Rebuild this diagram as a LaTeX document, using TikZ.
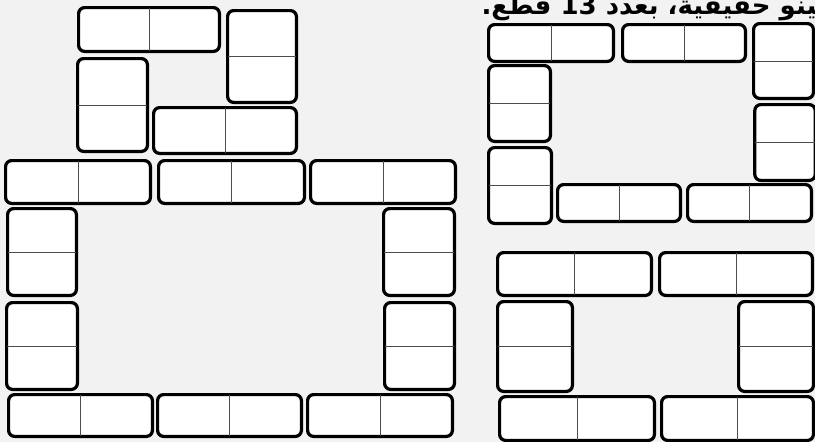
\documentclass[tikz,border=0pt]{standalone}
\usepackage{fontspec}
\newfontfamily\arabicfont[Script=Arabic]{DejaVu Sans}
\TeXXeTstate=1

\begin{document}
\begin{tikzpicture}[x=1pt, y=-1pt, dom/.style={draw, line width=3.2pt, rounded corners=6pt, fill=white, inner sep=0pt}, split/.style={draw=black!70, line width=1pt, shorten <=1.6pt, shorten >=1.6pt}]
    \fill[black!5] (0,0) rectangle (815,442);
    \useasboundingbox (0,0) rectangle (815,442);
    \node[anchor=base west, font=\arabicfont\bfseries\fontsize{26}{30}\selectfont] (caption) at (478,14) {\beginR قطع دومينو حقيقية، بعدد \beginL 13\endL{} قطع.\endR};
    \node[dom, minimum width=140.8pt, minimum height=43.8pt] (t1) at (149,29.5) {};
    \node[dom, minimum width=68.8pt, minimum height=91.8pt] (t2) at (262,56.5) {};
    \node[dom, minimum width=69.8pt, minimum height=92.8pt] (t3) at (112.5,105) {};
    \node[dom, minimum width=142.8pt, minimum height=45.8pt] (t4) at (225,130.5) {};
    \node[dom, minimum width=144.8pt, minimum height=42.8pt] (f1) at (78,182) {};
    \node[dom, minimum width=145.8pt, minimum height=42.8pt] (f2) at (231.5,182) {};
    \node[dom, minimum width=144.8pt, minimum height=42.8pt] (f3) at (383,182) {};
    \node[dom, minimum width=68.8pt, minimum height=86.8pt] (f4) at (42,252) {};
    \node[dom, minimum width=70.8pt, minimum height=86.8pt] (f5) at (419,252) {};
    \node[dom, minimum width=70.8pt, minimum height=86.8pt] (f6) at (42,346) {};
    \node[dom, minimum width=69.8pt, minimum height=86.8pt] (f7) at (419.5,346) {};
    \node[dom, minimum width=143.8pt, minimum height=41.8pt] (f8) at (80.5,415.5) {};
    \node[dom, minimum width=143.8pt, minimum height=41.8pt] (f9) at (229.5,415.5) {};
    \node[dom, minimum width=144.8pt, minimum height=41.8pt] (f10) at (380,415.5) {};
    \node[dom, minimum width=124.8pt, minimum height=36.8pt] (r1) at (551,43) {};
    \node[dom, minimum width=122.8pt, minimum height=36.8pt] (r2) at (684,43) {};
    \node[dom, minimum width=59.8pt, minimum height=74.8pt] (r3) at (783.5,61) {};
    \node[dom, minimum width=61.8pt, minimum height=75.8pt] (r4) at (519.5,103.5) {};
    \node[dom, minimum width=60.4pt, minimum height=75.8pt] (r5) at (785,142.5) {};
    \node[dom, minimum width=62.8pt, minimum height=75.8pt] (r6) at (520,185.5) {};
    \node[dom, minimum width=122.8pt, minimum height=36.8pt] (r7) at (619,203) {};
    \node[dom, minimum width=123.8pt, minimum height=36.8pt] (r8) at (749.5,203) {};
    \node[dom, minimum width=153.8pt, minimum height=42.8pt] (s1) at (574.5,274) {};
    \node[dom, minimum width=152.8pt, minimum height=42.8pt] (s2) at (736,274) {};
    \node[dom, minimum width=74.8pt, minimum height=89.8pt] (s3) at (535,346.5) {};
    \node[dom, minimum width=74.8pt, minimum height=89.8pt] (s4) at (776,346.5) {};
    \node[dom, minimum width=154.8pt, minimum height=43.8pt] (s5) at (577,418.5) {};
    \node[dom, minimum width=151.8pt, minimum height=43.8pt] (s6) at (737.5,418.5) {};
    \foreach \d in {t1,t4,f1,f2,f3,f8,f9,f10,r1,r2,r7,r8,s1,s2,s5,s6}
        \draw[split] (\d.north) -- (\d.south);
    \foreach \d in {t2,t3,f4,f5,f6,f7,r3,r4,r5,r6,s3,s4}
        \draw[split] (\d.west) -- (\d.east);
\end{tikzpicture}
\end{document}
